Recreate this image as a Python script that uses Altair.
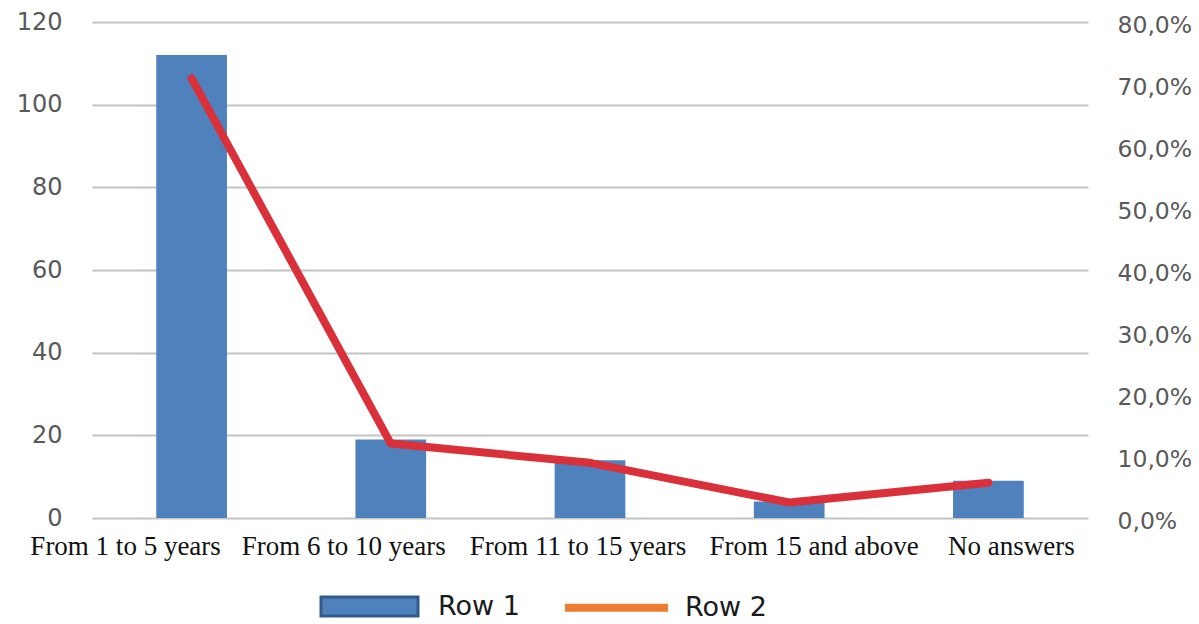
import altair as alt
import pandas as pd

# Years of experience: respondent counts (bars, left axis) and share (line, right axis)
categories = [
    "From 1 to 5 years",
    "From 6 to 10 years",
    "From 11  to 15 years",
    "From 15 and above",
    "No answers",
]
counts = [112, 19, 14, 4, 9]
shares = [0.709, 0.120, 0.089, 0.025, 0.057]

left_ticks = [0, 20, 40, 60, 80, 100, 120]
right_ticks = [0.0, 0.1, 0.2, 0.3, 0.4, 0.5, 0.6, 0.7, 0.8]

series_names = ["Row 1", "Row 2"]

# horizontal nudges for the category labels so the long labels do not collide
label_shift = [-66, -47, -12, 25, 23]

df = pd.DataFrame({"category": categories, "count": counts, "share": shares})
legend_df = pd.DataFrame({"series": series_names})

BLUE = "#4f81bd"
RED = "#d9303a"
ORANGE = "#ed7d31"
GRID = "#c4c4c4"
AXIS_TXT = "#595959"

x_enc = alt.X(
    "category:N",
    sort=categories,
    scale=alt.Scale(paddingInner=0.645, paddingOuter=0.3225),
    axis=alt.Axis(
        title=None,
        domain=False,
        ticks=False,
        labelAngle=0,
        labelFont="Liberation Serif",
        labelFontSize=27,
        labelColor="#111111",
        labelPadding=15,
        labelLimit=0,
        labelOverlap=False,
        labelOffset={
            "condition": [
                {"test": f"datum.label === '{c}'", "value": s}
                for c, s in zip(categories, label_shift)
            ],
            "value": 0,
        },
    ),
)

bars = alt.Chart(df).mark_bar(color=BLUE).encode(
    x=x_enc,
    y=alt.Y(
        "count:Q",
        scale=alt.Scale(domain=[0, 120], nice=False),
        axis=alt.Axis(
            title=None,
            values=left_ticks,
            domain=False,
            ticks=False,
            grid=True,
            gridColor=GRID,
            gridWidth=2,
            labelFont="DejaVu Sans",
            labelFontSize=24,
            labelColor=AXIS_TXT,
            labelPadding=30,
            labelOffset=0,
        ),
    ),
)

line = alt.Chart(df).mark_line(
    color=RED, strokeWidth=8, strokeCap="round", strokeJoin="round"
).encode(
    x=alt.X("category:N", sort=categories),
    y=alt.Y(
        "share:Q",
        scale=alt.Scale(domain=[0, 0.8], nice=False),
        axis=alt.Axis(
            title=None,
            orient="right",
            values=right_ticks,
            domain=False,
            ticks=False,
            grid=False,
            labelFont="DejaVu Sans",
            labelFontSize=23.5,
            labelColor=AXIS_TXT,
            labelPadding=29,
            labelOffset=3,
            labelExpr="replace(format(datum.value, '.1%'), '.', ',')",
        ),
    ),
)

# Legend carrier: no rows survive the filter, only the legend is produced
box_path = "M-0.97,-0.19H0.97V0.19H-0.97Z"
bar_path = "M-1,-0.05H1V0.05H-1Z"
legend_layer = (
    alt.Chart(legend_df)
    .transform_filter("false")
    .mark_point(filled=True, strokeWidth=3, opacity=1)
    .encode(
        fill=alt.Fill(
            "series:N",
            scale=alt.Scale(domain=series_names, range=[BLUE, ORANGE]),
            legend=alt.Legend(
                title=None,
                orient="none",
                direction="horizontal",
                legendX=226,
                legendY=533,
                padding=0,
                symbolSize=10000,
                symbolStrokeWidth=3,
                symbolOpacity=1,
                labelFont="DejaVu Sans",
                labelFontSize=27,
                labelColor="#1a1a1a",
                labelOffset=17,
                columnPadding=40,
                labelLimit=0,
            ),
        ),
        stroke=alt.Stroke(
            "series:N",
            scale=alt.Scale(domain=series_names, range=["#335a8e", ORANGE]),
            legend=alt.Legend(title=None),
        ),
        shape=alt.Shape(
            "series:N",
            scale=alt.Scale(domain=series_names, range=[box_path, bar_path]),
            legend=alt.Legend(title=None),
        ),
    )
)

chart = (
    alt.layer(bars, line, legend_layer)
    .resolve_scale(y="independent")
    .properties(
        width=996,
        height=496,
        autosize=alt.AutoSizeParams(type="none"),
        padding={"left": 92, "top": 22, "right": 111, "bottom": 106},
        background="white",
    )
    .configure_view(stroke=None)
)

chart.save("out.html", embed_options={"renderer": "svg", "actions": False})
